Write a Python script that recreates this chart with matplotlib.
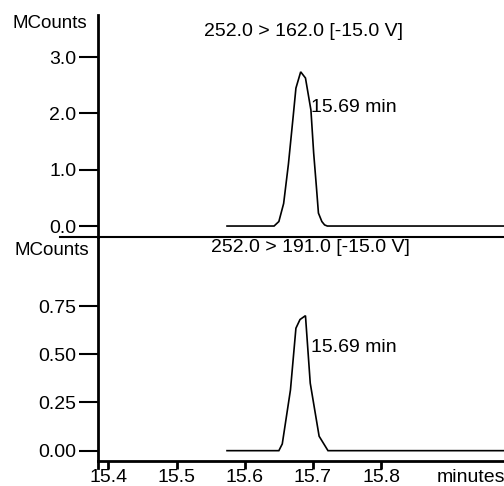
import matplotlib
matplotlib.use("Agg")
import matplotlib.pyplot as plt
from matplotlib.lines import Line2D

plt.rcParams['font.family'] = ['Liberation Sans', 'DejaVu Sans']

# Data: retention time (minutes) and intensity (MCounts)
top_t = [15.574, 15.643, 15.650, 15.657, 15.664, 15.671, 15.675, 15.682,
         15.689, 15.697, 15.701, 15.705, 15.708, 15.713, 15.717, 15.721, 16.05]
top_y = [0.0, 0.0, 0.08, 0.40, 1.10, 1.95, 2.45, 2.74,
         2.63, 2.06, 1.30, 0.70, 0.23, 0.08, 0.02, 0.0, 0.0]

bot_t = [15.574, 15.650, 15.655, 15.667, 15.675, 15.681, 15.689, 15.696,
         15.709, 15.722, 16.05]
bot_y = [0.0, 0.0, 0.035, 0.315, 0.635, 0.68, 0.70, 0.35,
         0.075, 0.0, 0.0]

top_title = "252.0 > 162.0 [-15.0 V]"
bot_title = "252.0 > 191.0 [-15.0 V]"
peak_label = "15.69 min"
top_ticks = [0.0, 1.0, 2.0, 3.0]
top_ticklabels = ["0.0", "1.0", "2.0", "3.0"]
bot_ticks = [0.0, 0.25, 0.50, 0.75]
bot_ticklabels = ["0.00", "0.25", "0.50", "0.75"]
x_ticks = [15.4, 15.5, 15.6, 15.7, 15.8]
x_ticklabels = ["15.4", "15.5", "15.6", "15.7", "15.8"]

W, H = 504, 486
fig = plt.figure(figsize=(W / 100, H / 100), dpi=100)

def fx(px):
    return px / W

def fy(py):
    return (H - py) / H

left = fx(98)
width = 1 - left
ax1 = fig.add_axes([left, fy(237), width, fy(15) - fy(237)])
ax2 = fig.add_axes([left, fy(460.5), width, fy(237) - fy(460.5)])

xlim = (15.3849, 15.980)
fs = 14

for ax, t, y, ticks, tls in [(ax1, top_t, top_y, top_ticks, top_ticklabels),
                             (ax2, bot_t, bot_y, bot_ticks, bot_ticklabels)]:
    ax.plot(t, y, color='black', lw=1.2, solid_joinstyle='miter')
    ax.set_xlim(*xlim)
    ax.set_yticks(ticks)
    ax.set_yticklabels(tls, fontsize=fs)
    ax.tick_params(axis='y', direction='out', length=13.5, width=1.5, pad=2, colors='black')
    for s in ['top', 'right']:
        ax.spines[s].set_visible(False)
    ax.spines['left'].set_linewidth(2)
    ax.patch.set_alpha(0)

ax1.set_ylim(-0.195, 3.75)
ax2.set_ylim(-0.051, 1.108)

ax1.spines['bottom'].set_visible(False)
ax1.set_xticks([])

ax2.spines['bottom'].set_linewidth(2)
ax2.set_xticks(x_ticks)
ax2.set_xticklabels(x_ticklabels, fontsize=fs)
ax2.tick_params(axis='x', direction='out', length=5.5, width=2, pad=0.3, colors='black')

# separator line between panels
fig.add_artist(Line2D([fx(60), 1.0], [fy(237), fy(237)], color='black', lw=1.5))
# left spine extension below bottom axis
fig.add_artist(Line2D([left, left], [fy(460.5), fy(468)], color='black', lw=2))

# texts
fig.text(fx(12), fy(24), "MCounts", fontsize=fs - 0.5, ha='left', va='center')
fig.text(fx(14), fy(250), "MCounts", fontsize=fs - 0.5, ha='left', va='center')
fig.text(fx(304), fy(31), top_title, fontsize=fs, ha='center', va='center')
fig.text(fx(310), fy(247), bot_title, fontsize=fs, ha='center', va='center')
fig.text(fx(311), fy(107), peak_label, fontsize=fs, ha='left', va='center')
fig.text(fx(311), fy(347), peak_label, fontsize=fs, ha='left', va='center')
fig.text(fx(437), fy(477), "minutes", fontsize=fs, ha='left', va='center')

fig.savefig("out.png", dpi=100)
